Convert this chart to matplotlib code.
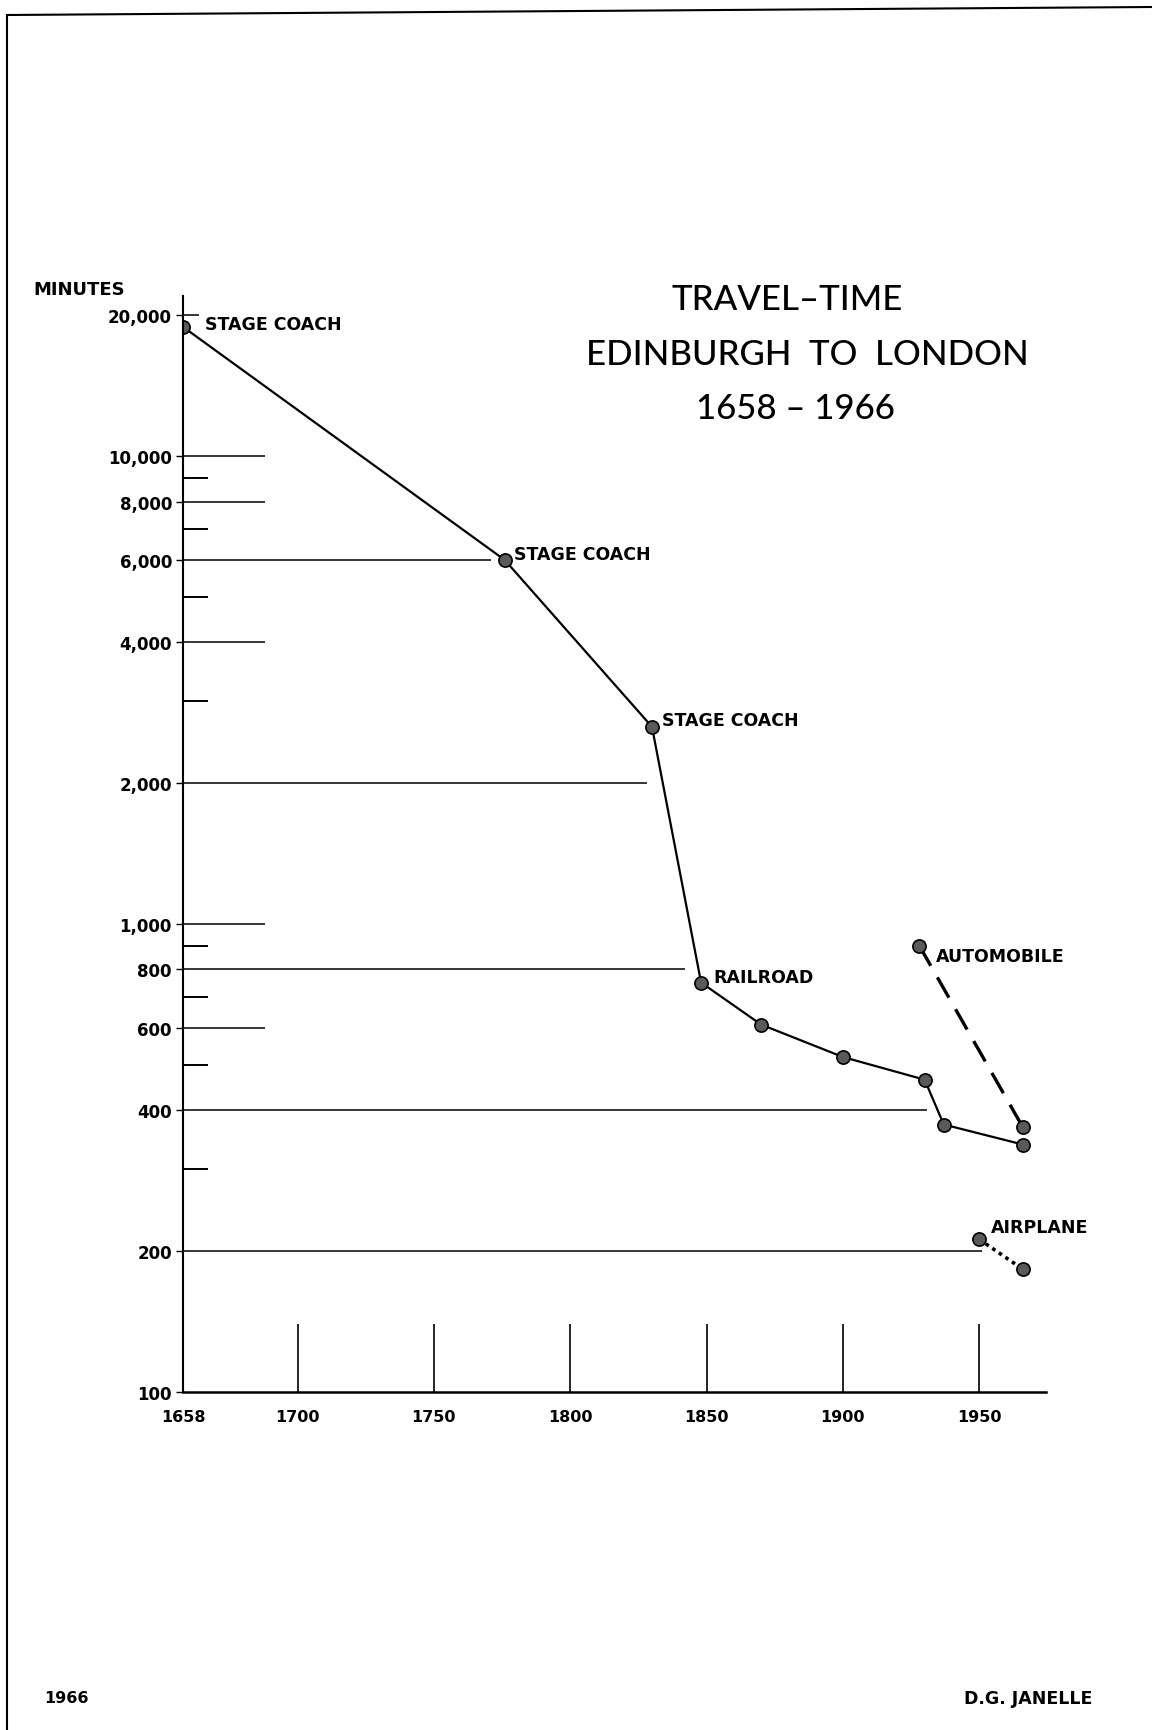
import matplotlib.pyplot as plt
from matplotlib.lines import Line2D

plt.rcParams['font.family'] = ['Lato', 'DejaVu Sans']

# main route: stage coach then railroad
rail_years = [1658, 1776, 1830, 1848, 1870, 1900, 1930, 1937, 1966]
rail_minutes = [18900, 6000, 2640, 750, 610, 520, 465, 373, 338]
auto_years = [1928, 1966]
auto_minutes = [900, 368]
air_years = [1950, 1966]
air_minutes = [212, 183]

ytick_vals = [20000, 10000, 8000, 6000, 4000, 2000, 1000, 800, 600, 400, 200, 100]
ytick_labels = ['20,000', '10,000', '8,000', '6,000', '4,000', '2,000',
                '1,000', '800', '600', '400', '200', '100']
minor_vals = [9000, 7000, 5000, 3000, 900, 700, 500, 300]
xtick_vals = [1658, 1700, 1750, 1800, 1850, 1900, 1950]

# how far each reference line runs (year at its right end)
ref_vals = [20000, 10000, 8000, 6000, 4000, 2000, 1000, 800, 600, 400, 200]
ref_ends = [1664, 1688, 1688, 1771, 1688, 1828, 1688, 1842, 1688, 1931, 1951]

W, H = 1152, 1731
fig = plt.figure(figsize=(W / 100, H / 100), dpi=100)
ax = fig.add_axes([183 / W, 1 - 1393 / H, (1046 - 183) / W, (1393 - 297) / H])
ax.set_yscale('log')
ax.set_xlim(1658, 1974.5)
ax.set_ylim(100, 22000)

for s in ['top', 'right']:
    ax.spines[s].set_visible(False)
ax.spines['left'].set_linewidth(1.5)
ax.spines['bottom'].set_linewidth(1.8)

ax.set_yticks(ytick_vals)
ax.set_yticklabels(ytick_labels)
ax.set_yticks(minor_vals, minor=True)
ax.yaxis.set_minor_formatter(plt.NullFormatter())
ax.tick_params(axis='y', which='major', direction='out', length=5, width=1, pad=3)
ax.tick_params(axis='y', which='minor', direction='in', length=18, width=1.4)
for lab in ax.get_yticklabels():
    lab.set_fontweight('bold')
    lab.set_family('DejaVu Sans')
    lab.set_fontsize(12)

ax.set_xticks(xtick_vals)
ax.set_xticklabels([str(v) for v in xtick_vals])
ax.tick_params(axis='x', direction='in', length=49, width=1.2, pad=12)
for lab in ax.get_xticklabels():
    lab.set_fontweight('bold')
    lab.set_family('DejaVu Sans')
    lab.set_fontsize(11.5)
ax.xaxis.get_major_ticks()[0].tick1line.set_visible(False)

for v, e in zip(ref_vals, ref_ends):
    ax.hlines(v, 1658, e, color='black', lw=1.1)

mk = dict(marker='o', markersize=9.5, markerfacecolor='#5a5a5a',
          markeredgecolor='black', markeredgewidth=1.2)
ax.plot(rail_years, rail_minutes, color='black', lw=1.6, **mk)
ax.plot(auto_years, auto_minutes, color='black', lw=2.4, dashes=(7, 4), **mk)
ax.plot(air_years, air_minutes, color='black', lw=2.6, linestyle=(0, (1, 1.2)), **mk)

lab_kw = dict(textcoords='offset pixels', fontsize=12.5, fontweight='bold',
              family='DejaVu Sans', va='center', ha='left')
ax.annotate('STAGE COACH', (rail_years[0], rail_minutes[0]), (22, 3), **lab_kw)
ax.annotate('STAGE COACH', (rail_years[1], rail_minutes[1]), (9, 6), **lab_kw)
ax.annotate('STAGE COACH', (rail_years[2], rail_minutes[2]), (10, 7), **lab_kw)
ax.annotate('RAILROAD', (rail_years[3], rail_minutes[3]), (12, 6), **lab_kw)
ax.annotate('AUTOMOBILE', (auto_years[0], auto_minutes[0]), (17, -10), **lab_kw)
ax.annotate('AIRPLANE', (air_years[0], air_minutes[0]), (12, 12), **lab_kw)

fig.text(33 / W, 1 - 290 / H, 'MINUTES', fontsize=13, fontweight='bold',
         family='DejaVu Sans', ha='left', va='center')

title_kw = dict(fontsize=25, fontweight='medium', ha='center', va='center')
fig.text(787 / W, 1 - 300 / H, 'TRAVEL–TIME', **title_kw)
fig.text(807 / W, 1 - 355 / H, 'EDINBURGH  TO  LONDON', **title_kw)
fig.text(795 / W, 1 - 409 / H, '1658 – 1966', **title_kw)

fig.text(44 / W, 1 - 1699 / H, '1966', fontsize=11.5, fontweight='bold',
         family='DejaVu Sans', ha='left', va='center')
fig.text(1092 / W, 1 - 1699 / H, 'D.G. JANELLE', fontsize=12.5, fontweight='bold',
         family='DejaVu Sans', ha='right', va='center')

# page border
fig.add_artist(Line2D([7 / W, 1], [1 - 16 / H, 1 - 8 / H], color='black', lw=1.5,
                      transform=fig.transFigure))
fig.add_artist(Line2D([7 / W, 7 / W], [1 - 16 / H, 0], color='black', lw=1.5,
                      transform=fig.transFigure))

fig.savefig('out.png', dpi=100)
